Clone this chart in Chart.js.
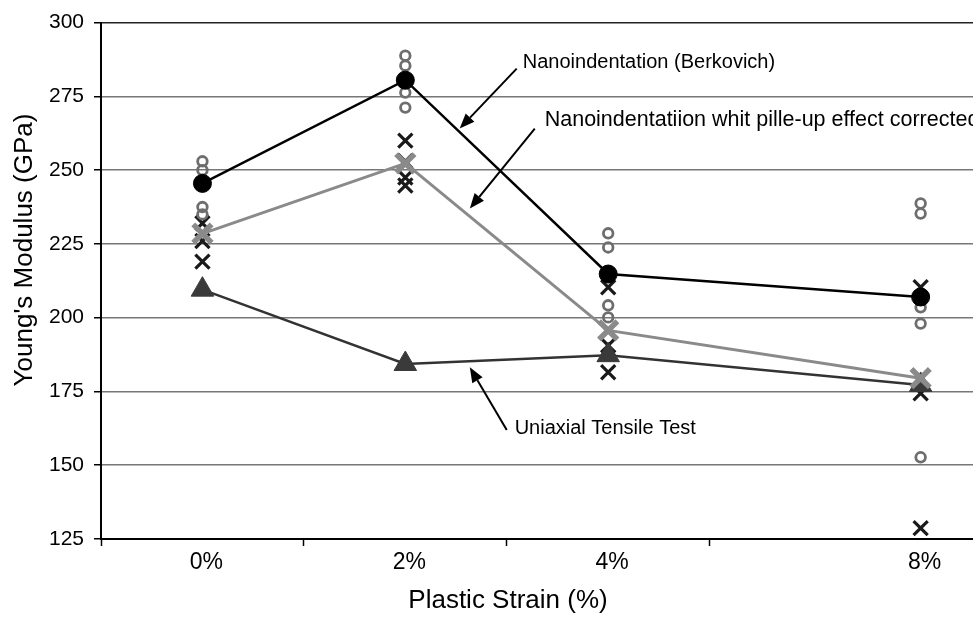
<!DOCTYPE html>
<html>
<head>
<meta charset="utf-8">
<script src="https://cdn.jsdelivr.net/npm/chart.js@4"></script>
<style>
  html, body { margin: 0; padding: 0; background: #fff; overflow: hidden; }
  #wrap { width: 973px; height: 619px; overflow: hidden; }
</style>
</head>
<body>
<!-- the original figure is cropped on the right, so the canvas is a bit wider than the window -->
<div id="wrap"><canvas id="modulus" width="1000" height="619"></canvas></div>
<script>
// categories and their position along the strain axis (8% sits further right in the original)
const strainLabels = ['0%', '2%', '4%', '8%'];
const strainPos = [0, 1, 2, 3.54];
const tickMarks = [-0.5, 0.5, 1.5, 2.5];

// averaged series
const berkovich = [245.5, 280.5, 214.8, 207];
const corrected = [228.5, 252.3, 195.7, 179.5];
const uniaxial = [209.5, 184.3, 187.3, 177.2];

// individual measurements
const indentCircles = [
    [253, 250, 237.5, 235],
    [288.8, 285.4, 276.3, 271.2],
    [228.6, 223.8, 204.2, 200.1],
    [238.7, 235.3, 203.5, 198, 152.7]
];
const indentCrosses = [
    [232, 226, 219],
    [260, 253, 247.5, 244.8],
    [210.3, 190.6, 181.5],
    [210.3, 174.4, 128.7]
];

const yTicks = { min: 125, max: 300, step: 25 };

const xTitle = 'Plastic Strain (%)';
const yTitle = "Young's Modulus (GPa)";

// callouts: text anchor, arrow start and arrow tip, all in axis units
const callouts = [
    { text: 'Nanoindentation (Berkovich)', size: 20, at: [1.579, 286.5], from: [1.549, 284.4], to: [1.268, 264.1] },
    { text: 'Nanoindentatiion whit pille-up effect corrected', size: 21.5, at: [1.687, 266.8], from: [1.638, 264.1], to: [1.318, 237.0] },
    { text: 'Uniaxial Tensile Test', size: 20, at: [1.539, 162.6], from: [1.5, 161.9], to: [1.318, 183.2] }
];

const FONT = "'Liberation Sans', Arial, sans-serif";

function toPoints(values) {
    return values.map((v, i) => ({ x: strainPos[i], y: v }));
}
function spread(groups) {
    let pts = [];
    groups.forEach((g, i) => g.forEach(v => pts.push({ x: strainPos[i], y: v })));
    return pts;
}

const calloutPlugin = {
    id: 'callouts',
    afterDatasetsDraw(chart) {
        const ctx = chart.ctx;
        const xs = chart.scales.x, ys = chart.scales.y;
        ctx.save();
        ctx.fillStyle = '#000';
        ctx.strokeStyle = '#000';
        ctx.textBaseline = 'middle';
        ctx.textAlign = 'left';
        callouts.forEach(c => {
            ctx.font = c.size + 'px ' + FONT;
            ctx.fillText(c.text, xs.getPixelForValue(c.at[0]), ys.getPixelForValue(c.at[1]));
            const x1 = xs.getPixelForValue(c.from[0]), y1 = ys.getPixelForValue(c.from[1]);
            const x2 = xs.getPixelForValue(c.to[0]), y2 = ys.getPixelForValue(c.to[1]);
            const ang = Math.atan2(y2 - y1, x2 - x1);
            const len = 15, half = 6;
            const bx = x2 - Math.cos(ang) * len, by = y2 - Math.sin(ang) * len;
            ctx.lineWidth = 2;
            ctx.beginPath();
            ctx.moveTo(x1, y1);
            ctx.lineTo(bx, by);
            ctx.stroke();
            ctx.beginPath();
            ctx.moveTo(x2, y2);
            ctx.lineTo(bx - Math.sin(ang) * half, by + Math.cos(ang) * half);
            ctx.lineTo(bx + Math.sin(ang) * half, by - Math.cos(ang) * half);
            ctx.closePath();
            ctx.fill();
        });

        // axis titles sit off-centre in the cropped original
        ctx.font = '26px ' + FONT;
        ctx.textAlign = 'center';
        ctx.fillText(xTitle, 508, 601);
        ctx.translate(25, 250);
        ctx.rotate(-Math.PI / 2);
        ctx.fillText(yTitle, 0, 0);
        ctx.restore();
    }
};

new Chart(document.getElementById('modulus'), {
    type: 'line',
    data: {
        datasets: [
            {
                label: 'Nanoindentation (Berkovich)',
                data: toPoints(berkovich),
                borderColor: '#000', borderWidth: 2.5,
                pointStyle: 'circle', pointRadius: 9,
                pointBackgroundColor: '#000', pointBorderColor: '#000', pointBorderWidth: 1,
                tension: 0
            },
            {
                label: 'Nanoindentatiion whit pille-up effect corrected',
                data: toPoints(corrected),
                borderColor: '#8a8a8a', borderWidth: 3,
                pointStyle: 'crossRot', pointRadius: 13,
                pointBorderColor: '#8a8a8a', pointBorderWidth: 5.5,
                tension: 0
            },
            {
                label: 'Uniaxial Tensile Test',
                data: toPoints(uniaxial),
                borderColor: '#333', borderWidth: 2.5,
                pointStyle: 'triangle', pointRadius: 13,
                pointBackgroundColor: '#3a3a3a', pointBorderColor: '#3a3a3a', pointBorderWidth: 1,
                tension: 0
            },
            {
                label: 'indent circles',
                data: spread(indentCircles),
                showLine: false,
                pointStyle: 'circle', pointRadius: 4.8,
                pointBackgroundColor: 'rgba(0,0,0,0)', pointBorderColor: '#6e6e6e', pointBorderWidth: 2.8
            },
            {
                label: 'indent crosses',
                data: spread(indentCrosses),
                showLine: false,
                pointStyle: 'crossRot', pointRadius: 10,
                pointBorderColor: '#1a1a1a', pointBorderWidth: 3.2
            }
        ]
    },
    options: {
        responsive: false,
        animation: false,
        layout: { padding: { top: 22, right: 0, bottom: 0, left: 0 } },
        plugins: { legend: { display: false }, tooltip: { enabled: false } },
        scales: {
            x: {
                type: 'linear',
                min: -0.5,
                max: 3.84,
                afterBuildTicks: axis => {
                    axis.ticks = tickMarks.concat(strainPos).sort((a, b) => a - b).map(v => ({ value: v }));
                },
                afterFit: s => { s.height = 80; },
                ticks: {
                    autoSkip: false,
                    maxRotation: 0,
                    padding: 3,
                    labelOffset: 4,
                    color: '#000',
                    font: { family: FONT, size: 23 },
                    callback: v => {
                        const i = strainPos.indexOf(v);
                        return i >= 0 ? strainLabels[i] : '';
                    }
                },
                grid: {
                    drawOnChartArea: false,
                    drawTicks: true,
                    tickLength: 7,
                    tickWidth: 1.5,
                    tickColor: c => tickMarks.indexOf(c.tick.value) >= 0 ? '#000' : 'rgba(0,0,0,0)'
                },
                border: { color: '#000', width: 2 }
            },
            y: {
                min: yTicks.min,
                max: yTicks.max,
                afterFit: s => { s.width = 101; },
                ticks: {
                    stepSize: yTicks.step,
                    padding: 10,
                    color: '#000',
                    font: { family: FONT, size: 21 }
                },
                grid: {
                    color: c => c.tick.value === yTicks.max ? '#222' : '#777',
                    lineWidth: 1.5,
                    tickLength: 7,
                    tickColor: '#000',
                    tickWidth: 1.5
                },
                border: { color: '#000', width: 2 }
            }
        }
    },
    plugins: [calloutPlugin]
});
</script>
</body>
</html>
